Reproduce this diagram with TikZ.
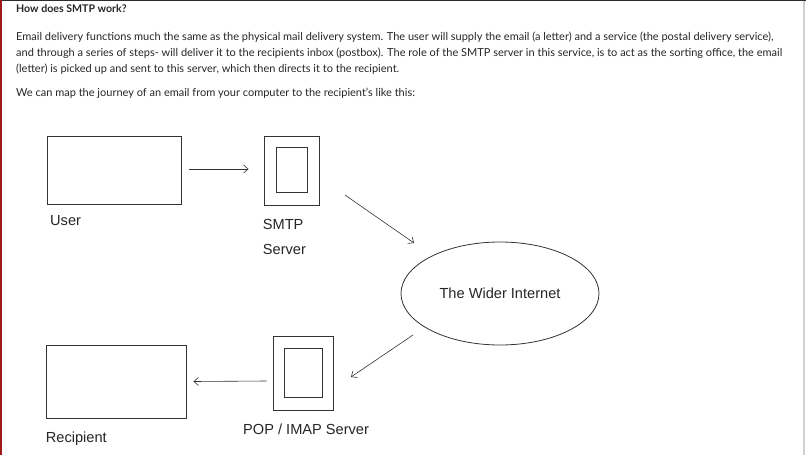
\documentclass[tikz,border=0pt]{standalone}
\usepackage{fontspec}
\setmainfont{Liberation Sans}
\newfontfamily\uifont{Lato}
\usetikzlibrary{arrows.meta,shapes.geometric}
\definecolor{topbar}{HTML}{2B2B33}
\definecolor{redbar}{HTML}{A01818}
\definecolor{sidegray}{HTML}{D0D0D0}
\definecolor{ink}{HTML}{333333}
\definecolor{bodyink}{HTML}{262626}
\tikzset{
  bodytext/.style={anchor=base west, inner sep=0, text=bodyink, font=\uifont\fontsize{11}{13}\selectfont},
  lbl/.style={anchor=base west, inner sep=0, text=bodyink, font=\fontsize{14.6}{16}\selectfont},
  box/.style={draw=ink, line width=0.9pt, inner sep=0, fill=white},
  arr/.style={draw=ink, line width=0.6pt, -{Straight Barb[length=4.5pt,width=8pt]}},
}
\begin{document}
\begin{tikzpicture}[x=1pt,y=-1pt]
\useasboundingbox (0,0) rectangle (806,455);
\fill[white] (0,0) rectangle (806,455);
\fill[topbar] (0,0) rectangle (806,1.3);
\fill[redbar] (0,0) rectangle (1.6,455);
\fill[sidegray] (803.3,1.3) rectangle (804.8,455);

% text
\node[bodytext, font=\uifont\bfseries\fontsize{10.6}{13}\selectfont] (title) at (16,12.7) {How does SMTP work?};
\node[bodytext] (l1) at (16,40) {Email delivery functions much the same as the physical mail delivery system. The user will supply the email (a letter) and a service (the postal delivery service),};
\node[bodytext] (l2) at (16,56) {and through a series of steps- will deliver it to the recipients inbox (postbox). The role of the SMTP server in this service, is to act as the sorting office, the email};
\node[bodytext] (l3) at (16,72) {(letter) is picked up and sent to this server, which then directs it to the recipient.};
\node[bodytext] (l4) at (16,96.7) {We can map the journey of an email from your computer to the recipient’s like this:};

% nodes
\node[box, minimum width=134, minimum height=68] (user) at (114,170) {};
\node[box, minimum width=55, minimum height=69] (smtp) at (291.5,170.5) {};
\node[box, minimum width=31, minimum height=45] (smtpin) at (291.5,169.5) {};
\node[ellipse, draw=ink, line width=0.8pt, minimum width=198, minimum height=103, inner sep=0, text=bodyink, font=\fontsize{14.6}{16}\selectfont] (net) at (500,293.5) {The Wider Internet};
\node[box, minimum width=60, minimum height=74] (pop) at (303,373) {};
\node[box, minimum width=38, minimum height=49] (popin) at (303,372.5) {};
\node[box, minimum width=140, minimum height=73] (rec) at (116,381.5) {};

% labels
\node[lbl] (userlbl) at (50,225) {User};
\node[lbl] (smtplbl) at (262.7,229.3) {SMTP};
\node[lbl] (serverlbl) at (262.7,254.3) {Server};
\node[lbl] (poplbl) at (243,434) {POP / IMAP Server};
\node[lbl] (reclbl) at (45.7,442.7) {Recipient};

% connectors
\coordinate (a1s) at (345,195);
\coordinate (a1e) at (414,243);
\coordinate (a2s) at (413,335);
\coordinate (a2e) at (351,377);
\draw[arr] ([xshift=8pt,yshift=1pt]user.east) -- ([xshift=-15pt,yshift=1.5pt]smtp.west);
\draw[arr] (a1s) -- (a1e);
\draw[arr] (a2s) -- (a2e);
\draw[arr] ([xshift=-6pt,yshift=-8pt]pop.west) -- ([xshift=7pt]rec.east);
\end{tikzpicture}
\end{document}
